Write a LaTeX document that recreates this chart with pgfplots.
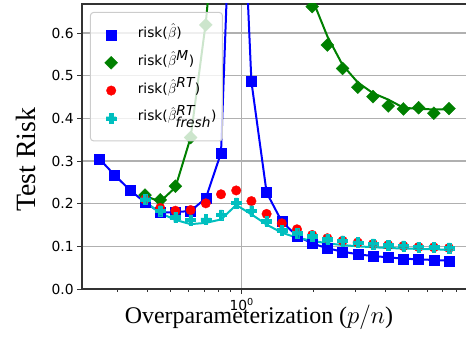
\documentclass[border=0pt]{standalone}
\usepackage{fontspec}
\setmainfont{Liberation Serif}
\newfontfamily\djv{DejaVu Sans}
\usepackage{pgfplots}
\pgfplotsset{compat=1.18}
\definecolor{mplgreen}{rgb}{0,0.5,0}
\definecolor{mplcyan}{rgb}{0,0.75,0.75}
\pgfdeclareplotmark{fatplus}{%
  \pgfpathmoveto{\pgfqpoint{-0.34\pgfplotmarksize}{\pgfplotmarksize}}%
  \pgfpathlineto{\pgfqpoint{0.34\pgfplotmarksize}{\pgfplotmarksize}}%
  \pgfpathlineto{\pgfqpoint{0.34\pgfplotmarksize}{0.34\pgfplotmarksize}}%
  \pgfpathlineto{\pgfqpoint{\pgfplotmarksize}{0.34\pgfplotmarksize}}%
  \pgfpathlineto{\pgfqpoint{\pgfplotmarksize}{-0.34\pgfplotmarksize}}%
  \pgfpathlineto{\pgfqpoint{0.34\pgfplotmarksize}{-0.34\pgfplotmarksize}}%
  \pgfpathlineto{\pgfqpoint{0.34\pgfplotmarksize}{-\pgfplotmarksize}}%
  \pgfpathlineto{\pgfqpoint{-0.34\pgfplotmarksize}{-\pgfplotmarksize}}%
  \pgfpathlineto{\pgfqpoint{-0.34\pgfplotmarksize}{-0.34\pgfplotmarksize}}%
  \pgfpathlineto{\pgfqpoint{-\pgfplotmarksize}{-0.34\pgfplotmarksize}}%
  \pgfpathlineto{\pgfqpoint{-\pgfplotmarksize}{0.34\pgfplotmarksize}}%
  \pgfpathlineto{\pgfqpoint{-0.34\pgfplotmarksize}{0.34\pgfplotmarksize}}%
  \pgfpathclose\pgfusepathqfillstroke}
\pgfdeclareplotmark{fatdiamond}{%
  \pgfpathmoveto{\pgfqpoint{0pt}{\pgfplotmarksize}}%
  \pgfpathlineto{\pgfqpoint{\pgfplotmarksize}{0pt}}%
  \pgfpathlineto{\pgfqpoint{0pt}{-\pgfplotmarksize}}%
  \pgfpathlineto{\pgfqpoint{-\pgfplotmarksize}{0pt}}%
  \pgfpathclose\pgfusepathqfillstroke}
\begin{document}
\begin{tikzpicture}
\begin{axis}[
  at={(0,0)}, anchor=south west,
  scale only axis, width=386bp, height=285bp,
  xmode=log, xmin=0.2133, xmax=8.93, ymin=0, ymax=0.668,
  xtick={1}, xticklabels={10\textsuperscript{0}},
  minor xtick={0.3,0.4,0.5,0.6,0.7,0.8,0.9,2,3,4,5,6,7,8},
  ytick={0,0.1,0.2,0.3,0.4,0.5,0.6},
  yticklabels={0.0,0.1,0.2,0.3,0.4,0.5,0.6},
  xtick pos=bottom, ytick pos=left,
  tick align=outside,
  major tick length=4.9bp, minor tick length=2.8bp,
  every tick/.style={black!80, line width=1bp},
  minor tick style={black!80, line width=0.8bp},
  ticklabel style={font=\djv\fontsize{13.9}{16}\selectfont},
  xticklabel style={yshift=-1bp},
  xmajorgrids, ymajorgrids,
  major grid style={black!31, line width=1.1bp},
  axis line style={black!80, line width=1.1bp},
  clip marker paths=true,
  xlabel={Overparameterization ($p/n$)},
  ylabel={Test Risk},
  xlabel style={at={(axis description cs:0.4585,-0.1)}, anchor=center, font=\fontsize{24}{27}\selectfont},
  ylabel style={at={(axis description cs:-0.145,0.453)}, anchor=center, font=\fontsize{28}{30}\selectfont},
  legend cell align=left,
  legend image code/.code={\path[draw=none,fill=none] (0bp,0bp) -- (30bp,0bp); \draw[#1, opacity=1] plot coordinates {(16.7bp,0bp)};},
  legend style={at={(axis description cs:0.0207,0.972)}, anchor=north west,
    font=\djv\fontsize{13.8}{17}\selectfont, fill=white, fill opacity=0.8, text opacity=1,
    draw=black!20, line width=1bp, rounded corners=3bp, row sep=6.8bp,
    inner xsep=4bp, inner ysep=12bp, column sep=11.3bp,
    nodes={text height=12bp, text depth=7bp, inner xsep=2bp, inner ysep=1bp}},
]
% theory lines
\addplot[blue, line width=2bp, forget plot] coordinates {
(0.2524,0.305) (0.2924,0.267) (0.3388,0.232) (0.3925,0.203) (0.4546,0.179)
(0.5266,0.180) (0.6101,0.183) (0.7067,0.2126) (0.8187,0.319) (0.9482,1.30)
(1.0985,0.486) (1.2725,0.226) (1.4742,0.158) (1.7078,0.124) (1.9784,0.107)
(2.2917,0.0954) (2.6546,0.0875) (3.0753,0.0813) (3.5625,0.0773) (4.1271,0.0742)
(4.7809,0.071) (5.5383,0.0696) (6.4156,0.068) (7.4321,0.0663)};
\addplot[mplgreen, line width=2bp, forget plot] coordinates {
(0.3925,0.218) (0.4546,0.205) (0.5266,0.238) (0.6101,0.355) (0.7067,0.625) (0.8187,1.0)};
\addplot[mplgreen, line width=2bp, forget plot] coordinates {
(1.7078,0.78) (1.9784,0.68) (2.2917,0.592) (2.6546,0.525) (3.0753,0.484)
(3.5625,0.459) (4.1271,0.444) (4.7809,0.425) (5.5383,0.422) (6.4156,0.421) (7.4321,0.421)};
\addplot[mplcyan, line width=2bp, forget plot] coordinates {
(0.3925,0.205) (0.4546,0.178) (0.5266,0.162) (0.6101,0.152) (0.7067,0.155)
(0.8187,0.163) (0.9482,0.197) (1.0985,0.175) (1.2725,0.151) (1.4742,0.132)
(1.7078,0.12) (1.9784,0.113) (2.2917,0.107) (2.6546,0.103) (3.0753,0.100)
(3.5625,0.098) (4.1271,0.096) (4.7809,0.095) (5.5383,0.094) (6.4156,0.093) (7.4321,0.092)};
% markers
\addplot[only marks, mark=square*, mark size=5bp, mark options={fill=blue, draw=blue, line width=0.3bp}] coordinates {
(0.2524,0.305) (0.2924,0.267) (0.3388,0.232) (0.3925,0.203) (0.4546,0.179)
(0.5266,0.180) (0.6101,0.183) (0.7067,0.2126) (0.8187,0.319)
(1.0985,0.486) (1.2725,0.226) (1.4742,0.158) (1.7078,0.124) (1.9784,0.107)
(2.2917,0.0954) (2.6546,0.0875) (3.0753,0.0813) (3.5625,0.0773) (4.1271,0.0742)
(4.7809,0.071) (5.5383,0.0696) (6.4156,0.068) (7.4321,0.0663)};
\addlegendentry{risk($\hat{\beta}$)}
\addplot[only marks, mark=fatdiamond, mark size=6.5bp, mark options={fill=mplgreen, draw=mplgreen, line width=0.3bp}] coordinates {
(0.3925,0.220) (0.4546,0.209) (0.5266,0.241) (0.6101,0.355) (0.7067,0.619)
(1.9784,0.662) (2.2917,0.572) (2.6546,0.517) (3.0753,0.473) (3.5625,0.451)
(4.1271,0.429) (4.7809,0.422) (5.5383,0.425) (6.4156,0.412) (7.4321,0.423)};
\addlegendentry{risk($\hat{\beta}^{\textit{M}}$)}
\addplot[only marks, mark=*, mark size=4.8bp, mark options={fill=red, draw=red, line width=0.3bp}] coordinates {
(0.3925,0.210) (0.4546,0.19) (0.5266,0.1835) (0.6101,0.185) (0.7067,0.2008)
(0.8187,0.222) (0.9482,0.231) (1.0985,0.206) (1.2725,0.176) (1.4742,0.154)
(1.7078,0.14) (1.9784,0.1266) (2.2917,0.119) (2.6546,0.113) (3.0753,0.109)
(3.5625,0.1055) (4.1271,0.103) (4.7809,0.1008) (5.5383,0.0984) (6.4156,0.0977) (7.4321,0.0961)};
\addlegendentry{risk($\hat{\beta}^{\textit{RT}}$)}
\addplot[only marks, mark=fatplus, mark size=5bp, mark options={fill=mplcyan, draw=mplcyan, line width=0.3bp}] coordinates {
(0.3925,0.21) (0.4546,0.1835) (0.5266,0.168) (0.6101,0.162) (0.7067,0.163)
(0.8187,0.174) (0.9482,0.202) (1.0985,0.1835) (1.2725,0.159) (1.4742,0.138)
(1.7078,0.131) (1.9784,0.124) (2.2917,0.117) (2.6546,0.113) (3.0753,0.109)
(3.5625,0.1055) (4.1271,0.103) (4.7809,0.1008) (5.5383,0.0984) (6.4156,0.0977) (7.4321,0.0961)};
\addlegendentry{risk($\hat{\beta}^{\textit{RT}}_{\textit{fresh}}$)}
\end{axis}
\pgfresetboundingbox
\path[use as bounding box] (-82bp,-52bp) rectangle (384bp,289bp);
\end{tikzpicture}
\end{document}
